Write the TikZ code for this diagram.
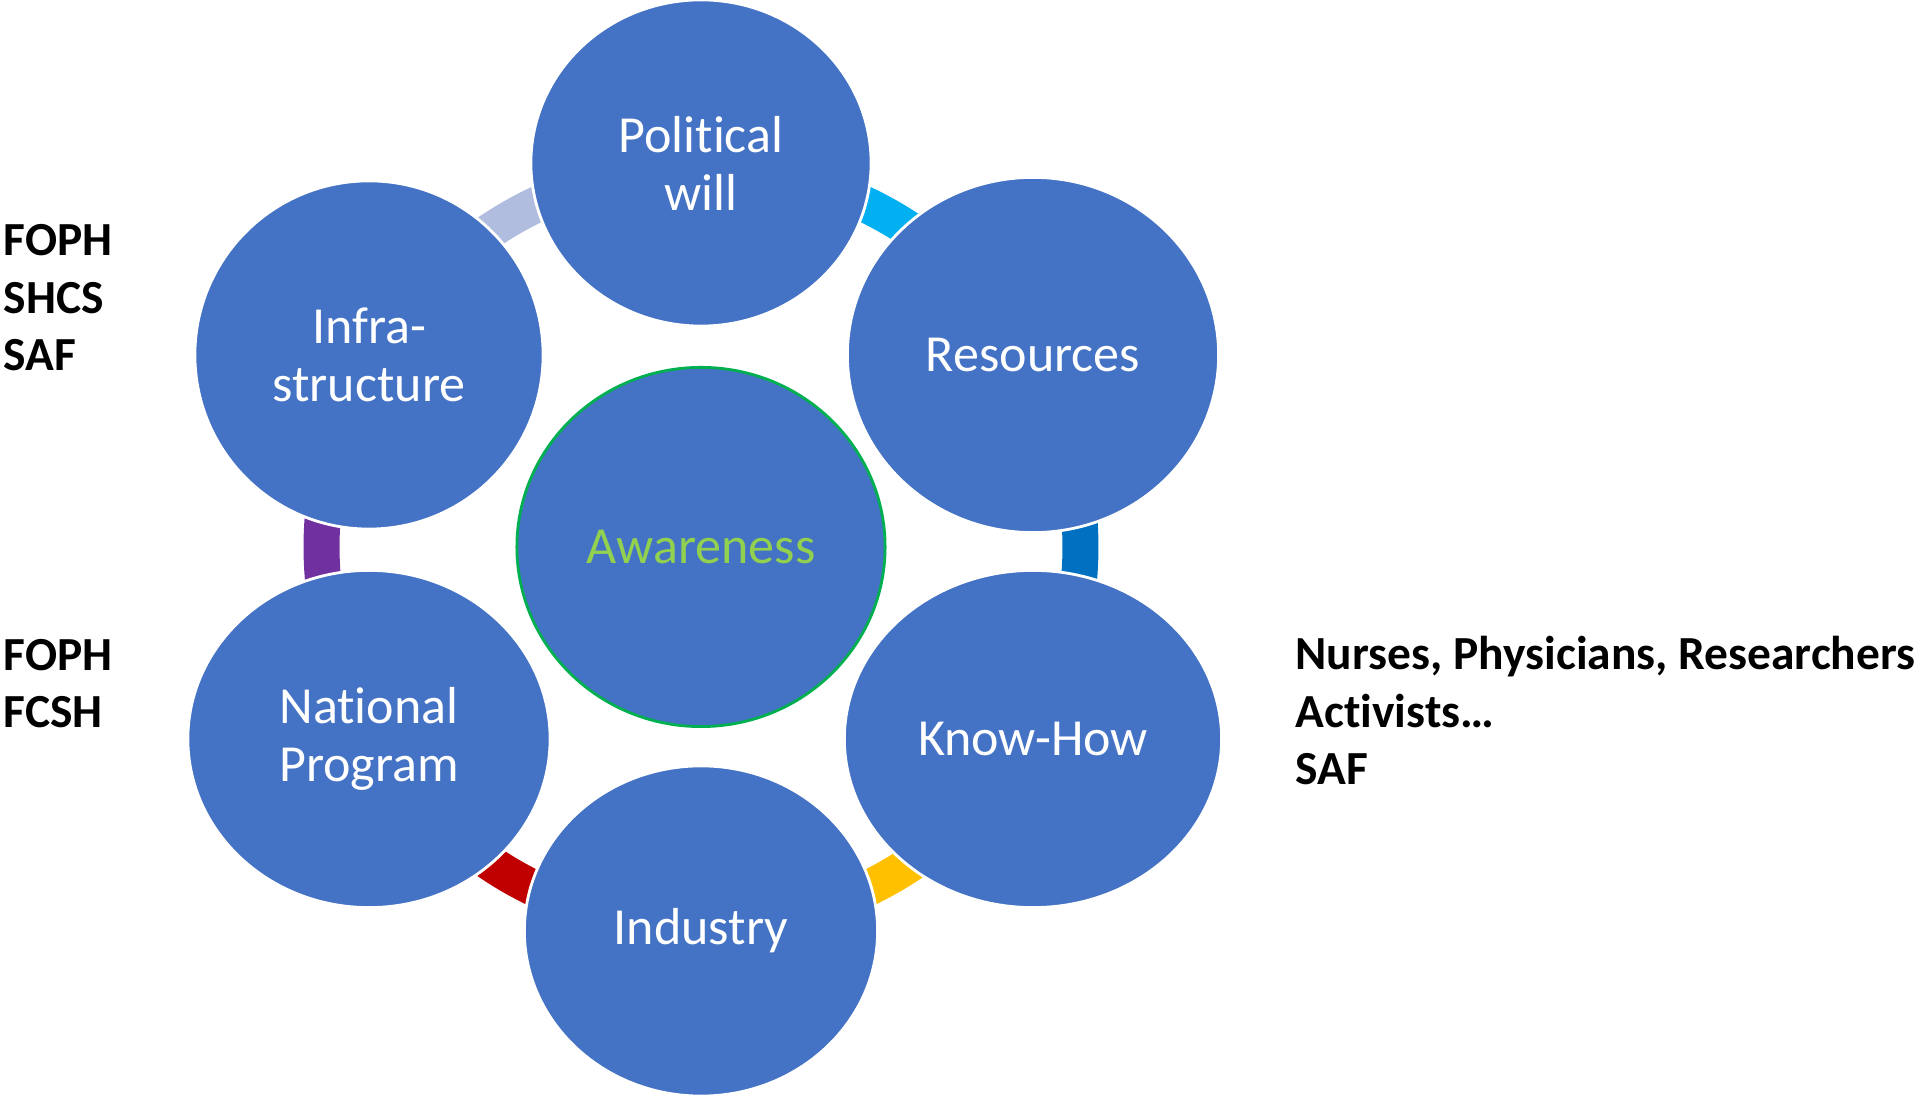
\documentclass[tikz,border=0pt]{standalone}
\usepackage{fontspec}
\setmainfont{Carlito}[Ligatures=NoCommon]
\usepackage{tikz}
\usetikzlibrary{positioning,shapes.geometric}
\definecolor{circblue}{HTML}{4472C4}
\definecolor{awaretext}{HTML}{92D050}
\definecolor{awareline}{HTML}{00B050}
\definecolor{linklav}{HTML}{B1BDDF}
\definecolor{linkcyan}{HTML}{00B0F0}
\definecolor{linkblue}{HTML}{0070C0}
\definecolor{linkgold}{HTML}{FFC000}
\definecolor{linkred}{HTML}{C00000}
\definecolor{linkpurple}{HTML}{7030A0}
\pgfdeclarelayer{bg}
\pgfsetlayers{bg,main}

\begin{document}
\begin{tikzpicture}[x=0.01cm,y=0.01cm]
            \tikzstyle{bubble}=[ellipse, fill=circblue, draw=white, line width=0.8pt, inner sep=0pt, text=white, align=center, font=\fontsize{14.8}{16.5}\selectfont]
            \tikzstyle{link}=[line width=0.36cm]
            \tikzstyle{lab}=[align=left, inner sep=0pt, anchor=base west, font=\fontsize{13.5}{16.35}\selectfont\bfseries]

            \useasboundingbox (-701,-548) rectangle (1220,547);

            \node[bubble, minimum width=3.40cm, minimum height=3.26cm] (pol) at (0,384) {Political\\will};
            \node[bubble, minimum width=3.71cm, minimum height=3.55cm] (res) at (332,192) {Resources};
            \node[bubble, minimum width=3.77cm, minimum height=3.37cm] (know) at (332,-192) {Know-How};
            \node[bubble, minimum width=3.53cm, minimum height=3.30cm] (ind) at (0,-384) {Industry};
            \node[bubble, minimum width=3.62cm, minimum height=3.37cm] (nat) at (-332,-192) {National\\Program};
            \node[bubble, minimum width=3.48cm, minimum height=3.48cm] (infra) at (-332,192) {Infra-\\structure};
            \node[bubble, draw=awareline, text=awaretext, minimum width=3.68cm, minimum height=3.59cm] (aware) at (0,0) {Awareness};

            \begin{pgfonlayer}{bg}
                \draw[link, draw=linklav] (pol.center) to[bend right=25] (infra.center);
                \draw[link, draw=linkpurple] (infra.center) to[bend right=25] (nat.center);
                \draw[link, draw=linkred] (nat.center) to[bend right=25] (ind.center);
                \draw[link, draw=linkgold] (ind.center) to[bend right=25] (know.center);
                \draw[link, draw=linkblue] (know.center) to[bend right=25] (res.center);
                \draw[link, draw=linkcyan] (res.center) to[bend right=25] (pol.center);
            \end{pgfonlayer}

            \node[lab] (grpa) at (-698,176) {FOPH\\SHCS\\SAF};
            \node[lab] (grpb) at (-698,-181) {FOPH\\FCSH};
            \node[lab] (grpc) at (594,-238) {Nurses, Physicians, Researchers\\Activists…\\SAF};
\end{tikzpicture}
\end{document}
